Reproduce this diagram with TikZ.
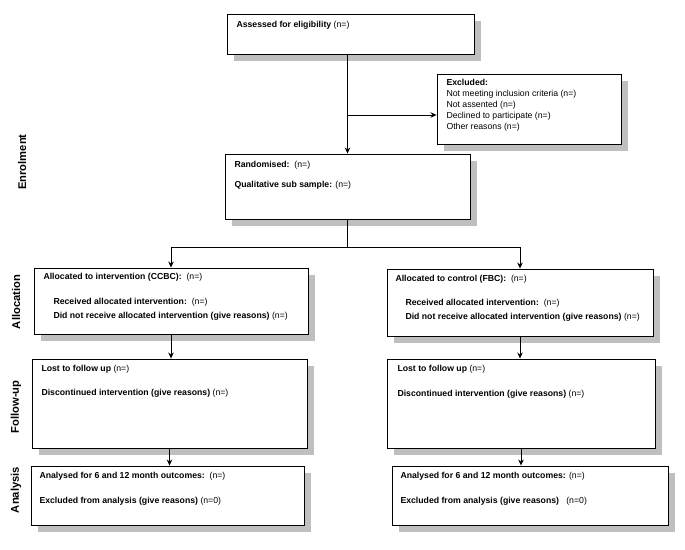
\documentclass[tikz,border=0pt]{standalone}
\usepackage{fontspec}
\setmainfont{Liberation Sans}
\usetikzlibrary{positioning,calc,shadows}
\usetikzlibrary{arrows.meta}

\tikzset{
    box/.style = {draw, fill = white, line width = .9pt, inner sep = 0pt,
        general shadow = {fill = black!25, shadow xshift = 7pt, shadow yshift = -7pt}},
    txt/.style = {anchor = west, inner sep = 0pt, font = \fontsize{8.7}{10}\selectfont},
    stage/.style = {rotate = 90, inner sep = 0pt, font = \fontsize{11.2}{13}\bfseries}
}

\begin{document}
\begin{tikzpicture}[x = 1pt, y = -1pt, >={Stealth[length = 6pt, width = 5.5pt]}, line width = 1pt]

    \useasboundingbox (0, 0) rectangle (685, 549);

    % boxes
    \node [box, minimum width = 247pt, minimum height = 40pt] (assess) at (350.5, 34) {};
    \node [box, minimum width = 184pt, minimum height = 70pt] (excl) at (529, 109) {};
    \node [box, minimum width = 245pt, minimum height = 65pt] (rand) at (347.5, 186.5) {};

    \node [box, minimum width = 274pt, minimum height = 66pt] (allocI) at (171, 301) {};
    \node [box, minimum width = 266pt, minimum height = 67pt] (allocC) at (520, 302.5) {};
    \node [box, minimum width = 275pt, minimum height = 89pt] (fupI) at (169.5, 403.5) {};
    \node [box, minimum width = 268pt, minimum height = 89pt] (fupC) at (521, 403.5) {};
    \node [box, minimum width = 273pt, minimum height = 59pt] (anaI) at (167.5, 495.5) {};
    \node [box, minimum width = 276pt, minimum height = 59pt] (anaC) at (530, 495.5) {};

    % texts
    \node [txt] (tAssess) at (236, 25) {\textbf{Assessed for eligibility} (n=)};

    \node [txt] (tExcl1) at (446, 82) {\textbf{Excluded:}};
    \node [txt] (tExcl2) at (446, 94) {Not meeting inclusion criteria (n=)};
    \node [txt] (tExcl3) at (446, 105) {Not assented (n=)};
    \node [txt] (tExcl4) at (446, 116) {Declined to participate (n=)};
    \node [txt] (tExcl5) at (446, 127) {Other reasons (n=)};

    \node [txt] (tRand1) at (234, 165) {\textbf{Randomised:}\ \ (n=)};
    \node [txt] (tRand2) at (234, 185) {\textbf{Qualitative sub sample:} (n=)};

    \node [txt] (tAllocI1) at (43, 277) {\textbf{Allocated to intervention (CCBC):}\ \ (n=)};
    \node [txt] (tAllocI2) at (53, 302) {\textbf{Received allocated intervention:}\ \ (n=)};
    \node [txt] (tAllocI3) at (53, 316) {\textbf{Did not receive allocated intervention (give reasons)} (n=)};

    \node [txt] (tAllocC1) at (395, 279) {\textbf{Allocated to control (FBC):}\ \ (n=)};
    \node [txt] (tAllocC2) at (405, 303) {\textbf{Received allocated intervention:}\ \ (n=)};
    \node [txt] (tAllocC3) at (405, 317) {\textbf{Did not receive allocated intervention (give reasons)} (n=)};

    \node [txt] (tFupI1) at (41, 369) {\textbf{Lost to follow up} (n=)};
    \node [txt] (tFupI2) at (41, 393) {\textbf{Discontinued intervention (give reasons)} (n=)};
    \node [txt] (tFupC1) at (397, 369) {\textbf{Lost to follow up} (n=)};
    \node [txt] (tFupC2) at (397, 394) {\textbf{Discontinued intervention (give reasons)} (n=)};

    \node [txt] (tAnaI1) at (39, 476) {\textbf{Analysed for 6 and 12 month outcomes:}\ \ (n=)};
    \node [txt] (tAnaI2) at (39, 501) {\textbf{Excluded from analysis (give reasons)} (n=0)};
    \node [txt] (tAnaC1) at (400, 476) {\textbf{Analysed for 6 and 12 month outcomes:} (n=)};
    \node [txt] (tAnaC2) at (400, 501) {\textbf{Excluded from analysis (give reasons)}\ \ \ (n=0)};

    % stages
    \node [stage] (sEnrol) at (22, 162) {Enrolment};
    \node [stage] (sAlloc) at (16, 302) {Allocation};
    \node [stage] (sFup) at (16, 407) {Follow-up};
    \node [stage] (sAna) at (16, 490) {Analysis};

    % connectors
    \coordinate (split) at (347, 115);
    \coordinate (fork) at (347, 247);
    \draw [->] (rand.north |- assess.south) -- (rand.north);
    \draw [->] (split) -- (split -| excl.west);
    \draw (fork |- rand.south) -- (fork);
    \draw [->] (fork) -| (allocI.north);
    \draw [->] (fork) -| (allocC.north);
    \draw [->] (allocI.south) -- (allocI.south |- fupI.north);
    \draw [->] (allocC.south) -- (allocC.south |- fupC.north);
    \draw [->] (fupI.south) -- (fupI.south |- anaI.north);
    \draw [->] (fupC.south) -- (fupC.south |- anaC.north);

\end{tikzpicture}
\end{document}
